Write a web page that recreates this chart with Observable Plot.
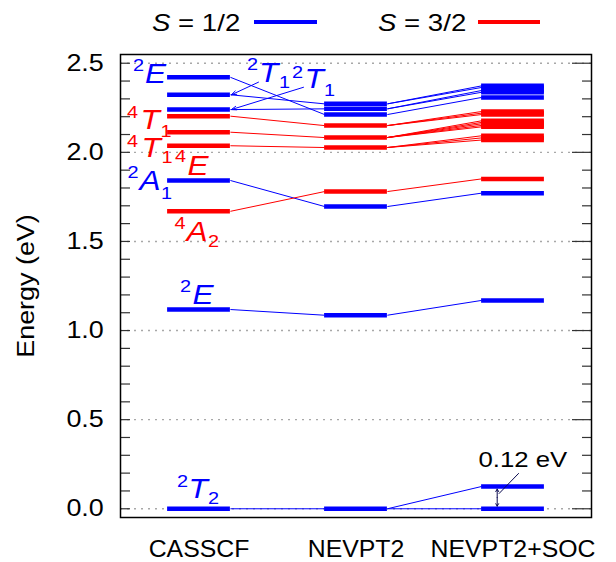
<!DOCTYPE html>
<html><head><meta charset="utf-8">
<script src="https://cdn.jsdelivr.net/npm/d3@7"></script>
<script src="https://cdn.jsdelivr.net/npm/@observablehq/plot@0.6"></script>
<style>
body{margin:0;background:#fff;font-family:"Liberation Sans",Arial,sans-serif;}
#wrap{position:relative;width:616px;height:562px;background:#fff;}
#legend{position:relative;width:616px;height:44px;}
.lg{position:absolute;font-size:24px;line-height:24px;white-space:nowrap;transform:scaleX(1.15);transform-origin:0 0;color:#000;}
.sw{position:absolute;height:4px;}
</style></head><body><div id="wrap"><div id="legend"></div><div id="chart"></div></div>
<script>
// ---------------- data ----------------
const methods = ["CASSCF", "NEVPT2", "NEVPT2+SOC"];
const spinNames = ["1/2", "3/2"];
const spinColors = ["#0000ff", "#ff0000"];

const casscfDoublet = [2.421, 2.323, 2.240, 1.842, 1.118, 0.000];
const casscfQuartet = [2.203, 2.113, 2.037, 1.669];
const nevpt2Doublet = [2.272, 2.244, 2.212, 1.696, 1.086, 0.000];
const nevpt2Quartet = [2.150, 2.083, 2.027, 1.780];
const socDoublet = [2.373, 2.364, 2.347, 2.337, 2.308, 1.771, 1.169, 0.125, 0.000];
const socQuartet = [2.229, 2.220, 2.212, 2.177, 2.168, 2.160, 2.151, 2.143, 2.093, 2.081, 2.069, 1.851];

// correlations (index pairs)
const casscfNevDoubletLinks = [[0,2],[1,0],[2,1],[3,3],[4,4],[5,5]];
const casscfNevQuartetLinks = [[0,0],[1,1],[2,2],[3,3]];
const nevSocDoubletLinks = [[0,0],[0,1],[1,2],[1,3],[2,4],[3,5],[4,6],[5,7],[5,8]];
const nevSocQuartetLinks = [[0,0],[0,1],[0,2],[1,3],[1,4],[1,5],[1,6],[1,7],[2,8],[2,9],[2,10],[3,11]];

const majorTicks = [0, 0.5, 1.0, 1.5, 2.0, 2.5];
const yTickLabels = ["0.0", "0.5", "1.0", "1.5", "2.0", "2.5"];
const minorTicks = d3.range(0, 26).map(i => i / 10);

const termLabels = [
  {sup:"2", main:"E", sub:"",  spin:0, level: casscfDoublet[0]},
  {sup:"2", main:"T", sub:"1", spin:0, level: casscfDoublet[1]},
  {sup:"2", main:"T", sub:"1", spin:0, level: casscfDoublet[2]},
  {sup:"4", main:"T", sub:"1", spin:1, level: casscfQuartet[0]},
  {sup:"4", main:"T", sub:"1", spin:1, level: casscfQuartet[2]},
  {sup:"4", main:"E", sub:"",  spin:1, level: casscfQuartet[2]},
  {sup:"2", main:"A", sub:"1", spin:0, level: casscfDoublet[3]},
  {sup:"4", main:"A", sub:"2", spin:1, level: casscfQuartet[3]},
  {sup:"2", main:"E", sub:"",  spin:0, level: casscfDoublet[4]},
  {sup:"2", main:"T", sub:"2", spin:0, level: casscfDoublet[5]}
];
const splitText = "0.12 eV";
const yTitle = "Energy (eV)";

// ---------------- layout ----------------
const W = 616, H = 518, mL = 120, mR = 25, mT = 10, mB = 45;
const xDom = [0.5, 3.5], yDom = [-0.049, 2.549];
const pxX = (W - mL - mR) / (xDom[1] - xDom[0]);
const pxY = (H - mT - mB) / (yDom[1] - yDom[0]);
const ox = px => px / pxX, oy = py => -py / pxY;
const hw = 0.2;
const textScale = 1.17, xLabelScale = 1.08;
const FONT = "'Liberation Sans', Arial, sans-serif";

// label part offsets in px: [supDx, supDy, mainDx, mainDy, subDx, subDy]
const termOffsets = [
  [-66,-6.8,-54,5.2,0,0],
  [48,-24.3,60,-12.8,80,-6.3],
  [93,-32,105.5,-21.5,125,-14],
  [-72,2.3,-58.5,13.3,-38.5,21.3],
  [-72,1.7,-57.5,11.7,-37.5,17.7],
  [-24,16.7,-11.5,29.7,0,0],
  [-71.5,-2,-59.5,10,-38,19],
  [-24.5,17.2,-12.5,29.2,9,35.2],
  [-19,-18,-6.5,-6,0,0],
  [-22,-21.3,-10.5,-10.3,9,-4.3]
];
const arrowStarts = [[1, 59.5, -12.6], [2, 104.5, -22.3]]; // [termLabel index, dx, dy]

// ---------------- tables ----------------
const levels = [];
[[1, casscfDoublet, 0], [1, casscfQuartet, 1], [2, nevpt2Doublet, 0], [2, nevpt2Quartet, 1], [3, socDoublet, 0], [3, socQuartet, 1]]
  .forEach(([m, arr, spin]) => arr.forEach(E => levels.push({m, E, spin})));

const links = [];
function addLinks(m1, a1, a2, pairs, spin) {
  pairs.forEach(([i, j]) => links.push({m1, m2: m1 + 1, E1: a1[i], E2: a2[j], spin}));
}
addLinks(1, casscfDoublet, nevpt2Doublet, casscfNevDoubletLinks, 0);
addLinks(1, casscfQuartet, nevpt2Quartet, casscfNevQuartetLinks, 1);
addLinks(2, nevpt2Doublet, socDoublet, nevSocDoubletLinks, 0);
addLinks(2, nevpt2Quartet, socQuartet, nevSocQuartetLinks, 1);

const parts = [];
termLabels.forEach((t, k) => {
  const o = termOffsets[k];
  parts.push({role:"sup", text:t.sup, spin:t.spin, x: 1 + ox(o[0]), y: t.level + oy(o[1])});
  parts.push({role:"main", text:t.main, spin:t.spin, x: 1 + ox(o[2]), y: t.level + oy(o[3])});
  if (t.sub) parts.push({role:"sub", text:t.sub, spin:t.spin, x: 1 + ox(o[4]), y: t.level + oy(o[5])});
});

const arrows = arrowStarts.map(([k, dx, dy]) => ({
  x1: 1 + ox(dx), y1: termLabels[k].level + oy(dy),
  x2: 1 + hw + ox(1), y2: termLabels[k].level, spin: termLabels[k].spin
}));

const eHi = socDoublet[7], eLo = socDoublet[8];
const ann = [{x: 3 + ox(-34.5), y: eHi + oy(-19.3), text: splitText}];
const leader = [{x1: 3 + ox(5.8), y1: eHi + oy(-13.3), x2: 3 + ox(-14.2), y2: eHi + oy(7.3)}];
const mid = (eHi + eLo) / 2;
const dbl = [
  {x1: 3 + ox(-15.8), y1: mid, x2: 3 + ox(-15.8), y2: eHi + oy(2.6)},
  {x1: 3 + ox(-15.8), y1: mid, x2: 3 + ox(-15.8), y2: eLo + oy(-2.6)}
];
const titlePos = [{x: xDom[0], y: (yDom[0] + yDom[1]) / 2, text: yTitle}];

// ---------------- plot ----------------
const col = d => spinColors[d.spin];
const chart = Plot.plot({
  width: W, height: H,
  marginLeft: mL, marginRight: mR, marginTop: mT, marginBottom: mB,
  x: {domain: xDom},
  y: {domain: yDom},
  color: {type: "identity"},
  style: {fontFamily: FONT, background: "white", color: "black"},
  marks: [
    Plot.gridY(majorTicks, {stroke: "#a8a8a8", strokeOpacity: 1, strokeWidth: 1.4, strokeDasharray: "2,5"}),
    Plot.link(links, {x1: d => d.m1 + hw, x2: d => d.m2 - hw, y1: "E1", y2: "E2", stroke: col, strokeWidth: 1}),
    Plot.ruleY(levels, {y: "E", x1: d => d.m - hw, x2: d => d.m + hw, stroke: col, strokeWidth: 4.5}),
    Plot.arrow(arrows, {x1: "x1", y1: "y1", x2: "x2", y2: "y2", stroke: col, strokeWidth: 1, headLength: 8, headAngle: 40}),
    Plot.text(parts.filter(p => p.role === "main"), {x: "x", y: "y", text: "text", fill: col, fontSize: 27, fontStyle: "italic", textAnchor: "start", lineAnchor: "bottom", fontFamily: FONT}),
    Plot.text(parts.filter(p => p.role !== "main"), {x: "x", y: "y", text: "text", fill: col, fontSize: 17, textAnchor: "start", lineAnchor: "bottom", fontFamily: FONT}),
    Plot.link(leader, {x1: "x1", y1: "y1", x2: "x2", y2: "y2", stroke: "#0a0a50", strokeWidth: 1}),
    Plot.arrow(dbl, {x1: "x1", y1: "y1", x2: "x2", y2: "y2", stroke: "#0a0a50", strokeWidth: 1, headLength: 5, headAngle: 60}),
    Plot.text(ann, {x: "x", y: "y", text: "text", fill: "black", fontSize: 22, textAnchor: "start", lineAnchor: "bottom", fontFamily: FONT}),
    Plot.axisY(minorTicks, {anchor: "left", tickSize: -10, fill: "none", stroke: "#333", strokeWidth: 1.2, label: null}),
    Plot.axisY(minorTicks.filter(t => !majorTicks.some(m => Math.abs(m - t) < 1e-9)), {anchor: "right", tickSize: -10, fill: "none", stroke: "#333", strokeWidth: 1.2, label: null}),
    Plot.axisY(majorTicks, {anchor: "right", tickSize: -20, fill: "none", stroke: "#333", strokeWidth: 1.2, label: null}),
    Plot.axisY(majorTicks, {anchor: "left", tickSize: 0, tickPadding: 16.7, fontSize: 23, fill: "black", label: null,
      tickFormat: d => yTickLabels[majorTicks.findIndex(m => Math.abs(m - d) < 1e-9)]}),
    Plot.axisX([1, 2, 3], {anchor: "bottom", tickSize: 0, tickPadding: 23, fontSize: 23, fill: "black", label: null,
      tickFormat: d => methods[d - 1]}),
    Plot.text(titlePos, {x: "x", y: "y", text: "text", dx: -94, rotate: -90, fontSize: 23, fill: "black", fontFamily: FONT, textAnchor: "middle", lineAnchor: "middle"}),
    Plot.frame({stroke: "#000", strokeWidth: 1.5})
  ]
});

chart.querySelectorAll("text").forEach(t => {
  const isX = t.closest('[aria-label="x-axis tick label"]');
  const s = isX ? xLabelScale : textScale;
  const tr = t.getAttribute("transform");
  if (tr) t.setAttribute("transform", tr + ` scale(${s},1)`);
  else {
    const x = +t.getAttribute("x") || 0, y = t.getAttribute("y");
    if (y === null || !isNaN(+y)) {
      t.removeAttribute("x"); t.removeAttribute("y");
      t.setAttribute("transform", `translate(${x},${+y || 0}) scale(${s},1)`);
    }
  }
});
document.getElementById("chart").appendChild(chart);

// ---------------- legend ----------------
const legend = document.getElementById("legend");
const legendItems = [
  {textLeft: 151.7, lineLeft: 254, lineWidth: 63},
  {textLeft: 378, lineLeft: 478, lineWidth: 62}
];
spinNames.forEach((s, i) => {
  const L = legendItems[i];
  const sp = document.createElement("span");
  sp.className = "lg";
  sp.style.left = L.textLeft + "px";
  sp.style.top = "11.4px";
  sp.innerHTML = `<i>S</i> = ${s}`;
  legend.appendChild(sp);
  const ln = document.createElement("div");
  ln.className = "sw";
  ln.style.left = L.lineLeft + "px";
  ln.style.top = "19.7px";
  ln.style.width = L.lineWidth + "px";
  ln.style.background = spinColors[i];
  legend.appendChild(ln);
});
</script></body></html>
